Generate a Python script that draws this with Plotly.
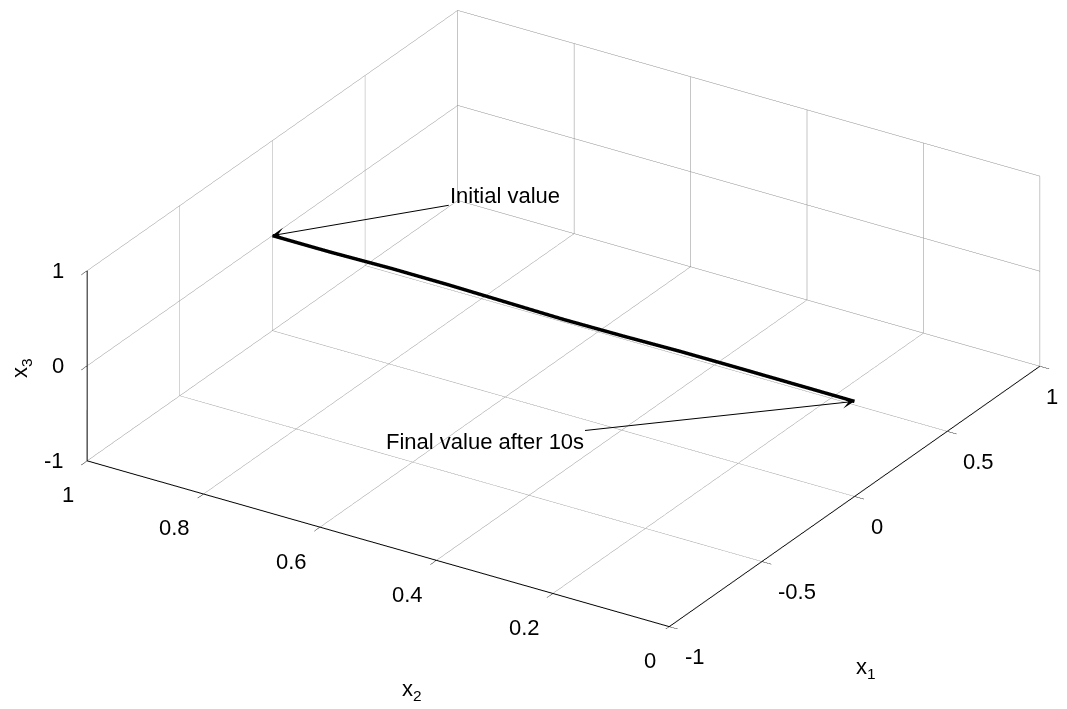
import plotly.graph_objects as go

# trajectory samples (x1, x2, x3)
x1_vals = [0.0, 0.0, 0.004, 0.003, 0.0, -0.003, 0.0, 0.004, 0.002, 0.0, 0.0]
x2_vals = [1.0, 0.9, 0.8, 0.7, 0.6, 0.5, 0.4, 0.3, 0.2, 0.1, 0.0]
x3_vals = [0.0, 0.0, 0.003, 0.004, 0.0, -0.004, -0.006, -0.004, 0.0, 0.002, 0.0]

x1_ticks = [-1, -0.5, 0, 0.5, 1]
x1_labels = ["-1", "-0.5", "0", "0.5", "1"]
x2_ticks = [0, 0.2, 0.4, 0.6, 0.8, 1]
x2_labels = ["0", "0.2", "0.4", "0.6", "0.8", "1"]
x3_ticks = [-1, 0, 1]
x3_labels = ["-1", "0", "1"]

FONT = "Liberation Sans, Arial, sans-serif"
FS = 22

fig = go.Figure()
fig.add_trace(go.Scatter3d(
    x=x1_vals, y=x2_vals, z=x3_vals, mode="lines",
    line=dict(color="black", width=7), hoverinfo="skip", showlegend=False))

def axis(vals, rng):
    return dict(
        range=rng, tickvals=vals, autorange=False,
        showgrid=True, gridcolor="#8c8c8c", gridwidth=1,
        showline=True, linecolor="black", linewidth=2,
        ticks="outside", ticklen=11, tickcolor="black",
        showbackground=False, zeroline=False, showspikes=False,
        showticklabels=False, title=dict(text=""),
    )

tfont = dict(family=FONT, size=FS, color="black")
annots = []
# tick labels placed at the tick positions in the scene
for v, t in zip(x2_ticks, x2_labels):
    annots.append(dict(x=-1, y=v, z=-1, text=t, showarrow=False, font=tfont,
                       xanchor="right", yanchor="middle", xshift=-11, yshift=-34))
for i, (v, t) in enumerate(zip(x1_ticks, x1_labels)):
    last = i == len(x1_ticks) - 1  # keep the last label inside the figure edge
    annots.append(dict(x=v, y=0, z=-1, text=t, showarrow=False, font=tfont,
                       xanchor="left", yanchor="middle",
                       xshift=4 if last else 14, yshift=-30))
for v, t in zip(x3_ticks, x3_labels):
    annots.append(dict(x=-1, y=1, z=v, text=t, showarrow=False, font=tfont,
                       xanchor="right", yanchor="middle", xshift=-21, yshift=0))

annots += [
    dict(x=x1_vals[0], y=x2_vals[0], z=x3_vals[0], text="Initial value", showarrow=True,
         ax=233, ay=-40, arrowhead=3, arrowsize=2, arrowwidth=1,
         arrowcolor="black", font=tfont),
    dict(x=x1_vals[-1], y=x2_vals[-1], z=x3_vals[-1], text="Final value after 10s",
         showarrow=True, ax=-370, ay=40, arrowhead=3, arrowsize=2, arrowwidth=1,
         arrowcolor="black", font=tfont),
]

S = 2.2225
fig.update_layout(
    width=1067, height=709,
    paper_bgcolor="white",
    margin=dict(l=0, r=0, t=0, b=0),
    scene=dict(
        domain=dict(x=[0.041, 1.0], y=[0.1242, 1.0]),
        xaxis=axis(x1_ticks, [-1, 1]),
        yaxis=axis(x2_ticks, [0, 1]),
        zaxis=axis(x3_ticks, [-1, 1]),
        aspectmode="manual",
        aspectratio=dict(x=1 * S, y=1 * S, z=0.308 * S),
        camera=dict(
            projection=dict(type="orthographic"),
            eye=dict(x=-0.7544 * 2, y=-0.4803 * 2, z=0.4473 * 2),
            up=dict(x=0, y=0, z=1),
            center=dict(x=0, y=0, z=0),
        ),
        bgcolor="white",
        annotations=annots,
    ),
    annotations=[
        dict(text="x<sub>1</sub>", x=858, y=709 - 660),
        dict(text="x<sub>2</sub>", x=404, y=709 - 682),
        dict(text="x<sub>3</sub>", x=13, y=709 - 360, textangle=-90),
    ],
)
for a in fig.layout.annotations:
    a.x = a.x / 1067
    a.y = a.y / 709
    a.xref = "paper"
    a.yref = "paper"
    a.showarrow = False
    a.xanchor = "center"
    a.yanchor = "middle"
    a.font = tfont

fig.write_html("out.html")
